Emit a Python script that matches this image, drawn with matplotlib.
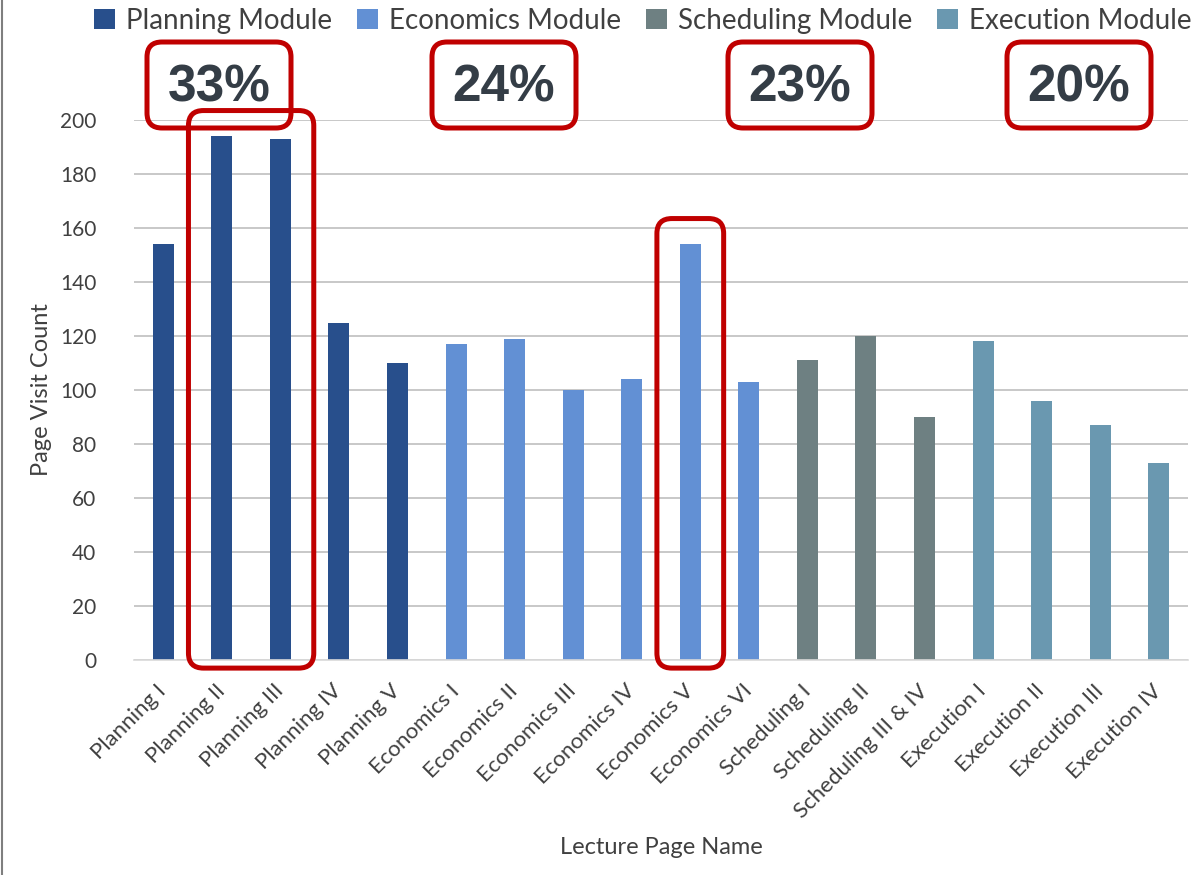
import numpy as np
import matplotlib
matplotlib.use("Agg")
import matplotlib.pyplot as plt
from matplotlib.patches import FancyBboxPatch, Patch
from matplotlib.lines import Line2D
from matplotlib.transforms import IdentityTransform

# ---------- data ----------
pages = [
    "Planning I", "Planning II", "Planning III", "Planning IV", "Planning V",
    "Economics I", "Economics II", "Economics III", "Economics IV", "Economics V", "Economics VI",
    "Scheduling I", "Scheduling II", "Scheduling III & IV",
    "Execution I", "Execution II", "Execution III", "Execution IV",
]
visits = [154, 194, 193, 125, 110,
          117, 119, 100, 104, 154, 103,
          111, 120, 90,
          118, 96, 87, 73]
modules = ["Planning Module", "Economics Module", "Scheduling Module", "Execution Module"]
module_sizes = [5, 6, 3, 4]
module_share = ["33%", "24%", "23%", "20%"]
highlight = [(1, 2), (9, 9)]  # bar index ranges boxed in red

# ---------- style ----------
mod_colors = ["#284F8C", "#6290D4", "#6E8082", "#6A98B0"]
grid_col = "#BFBFBF"
text_col = "#404040"
red = "#C00000"
font = "Lato"

W, H = 1196, 875
fig = plt.figure(figsize=(W / 100, H / 100), dpi=100)
ax_w = 1188 - 134
ax = fig.add_axes([134 / W, 1 - 660 / H, ax_w / W, 540 / H])

colors = np.repeat(mod_colors, module_sizes)
x = np.arange(len(pages))
ax.bar(x, visits, width=0.36, color=colors, zorder=3)

ax.set_xlim(-0.5, len(pages) - 0.5)
ax.set_ylim(0, 200)
ax.set_yticks(np.arange(0, 201, 20))
ax.grid(True, axis="y", color=grid_col, linewidth=1.2, zorder=0)
ax.grid(False, axis="x")
for s in ("top", "right", "left"):
    ax.spines[s].set_visible(False)
ax.spines["bottom"].set_color("#D9D9D9")
ax.spines["bottom"].set_linewidth(1.2)
ax.spines["bottom"].set_zorder(4)
ax.tick_params(length=0)
ax.tick_params(axis="y", pad=27, labelsize=15, labelcolor=text_col)

ax.set_xticks(x)
ax.set_xticklabels(pages, rotation=45, ha="right", va="center",
                   rotation_mode="anchor", fontsize=16, color=text_col,
                   fontfamily=font)
ax.tick_params(axis="x", pad=20)
for lab in ax.get_yticklabels():
    lab.set_fontfamily(font)

ax.set_ylabel("Page Visit Count", fontsize=17, color=text_col, fontfamily=font)
ax.yaxis.set_label_coords(-(134 - 52) / ax_w, 0.5)
ax.set_xlabel("Lecture Page Name", fontsize=17, color=text_col, fontfamily=font)
ax.xaxis.set_label_coords(0.5, -(848 - 660) / 540)
ax.xaxis.label.set_va("center")

# legend
handles = [Patch(facecolor=c, edgecolor="none") for c in mod_colors]
fig.legend(handles, modules, loc="center left", ncol=4,
           bbox_to_anchor=(80 / W, 1 - 21 / H), frameon=False,
           prop={"family": font, "size": 20}, labelcolor=text_col,
           handlelength=0.75, handleheight=0.75, handletextpad=0.4,
           columnspacing=0.9, borderpad=0)

# module share boxes (pixel positions, from top)
share_centers = [219, 504, 800, 1079]
for cx, txt in zip(share_centers, module_share):
    box = FancyBboxPatch((cx - 72, H - 128), 144, 86,
                         boxstyle="round,pad=0,rounding_size=15",
                         transform=IdentityTransform(), facecolor="none",
                         edgecolor=red, linewidth=3.6, zorder=10)
    fig.add_artist(box)
    fig.text(cx / W, 1 - 88 / H, txt, ha="center", va="center",
             fontsize=37, fontweight="bold", color="#343D46",
             family=["Liberation Sans Narrow", "Liberation Sans"])

# highlight boxes around bars
for i0, i1 in highlight:
    top = max(visits[i0:i1 + 1]) + 9.5
    (x0, y0) = ax.transData.transform((i0 - 0.57, -3))
    (x1, y1) = ax.transData.transform((i1 + 0.57, top))
    box = FancyBboxPatch((x0, y0), x1 - x0, y1 - y0,
                         boxstyle="round,pad=0,rounding_size=15",
                         transform=IdentityTransform(), facecolor="none",
                         edgecolor=red, linewidth=3.6, zorder=10)
    fig.add_artist(box)

# left frame line
fig.add_artist(Line2D([2 / W, 2 / W], [0, 1], color="#7F7F7F", linewidth=1.5,
                      transform=fig.transFigure))

fig.savefig("out.png", dpi=100)
